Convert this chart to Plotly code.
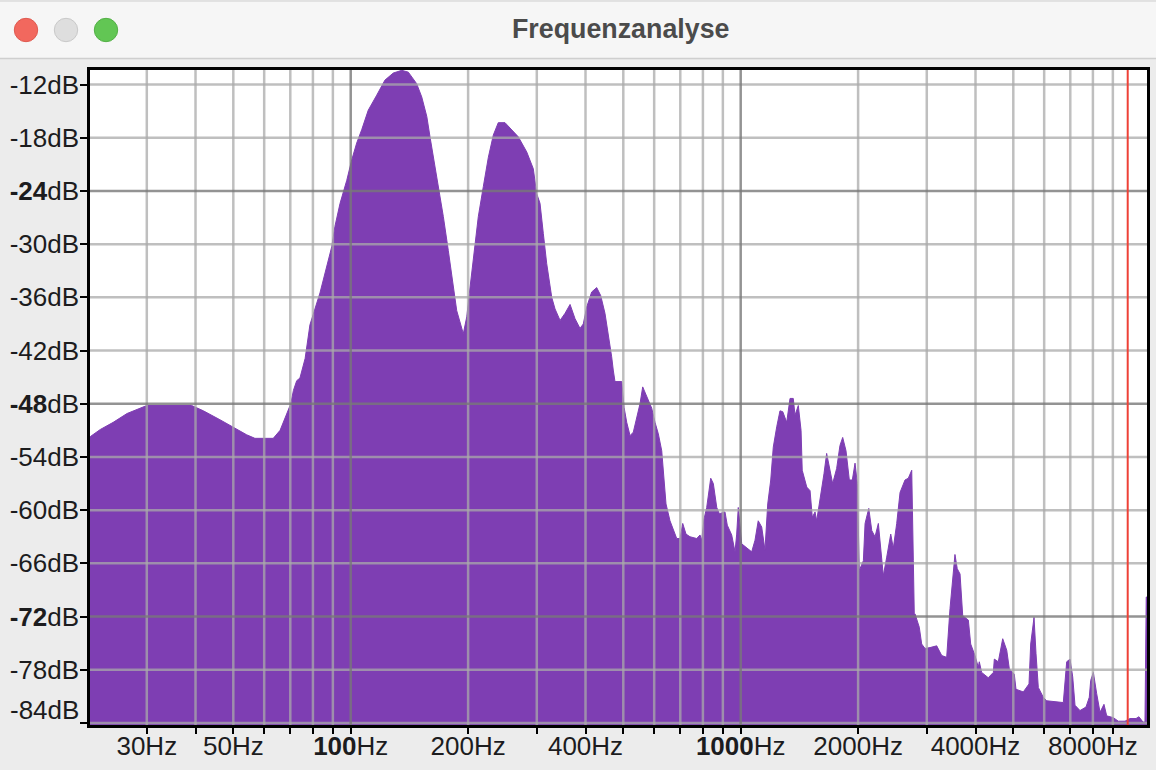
import plotly.graph_objects as go

# Spectrum
freq_hz = [
 21.3, 21.5, 22.8, 24.6, 26.7, 29.4, 30.0, 39.1, 41.9, 46.2,
 50.0, 54.1, 56.8, 63.3, 65.9, 68.6, 70.2, 71.3, 72.7, 74.1,
 76.4, 78.6, 83.4, 89.4, 91.1, 93.9, 97.7, 100.6, 103.6, 106.7,
 110.9, 116.6, 122.4, 128.6, 135.2, 140.5, 147.6, 152.1, 156.7, 159.7,
 163.5, 168.7, 172.8, 177.9, 183.3, 187.0, 194.4, 198.4, 201.4, 206.3,
 212.4, 218.8, 225.4, 232.1, 239.0, 248.7, 269.0, 282.7, 293.9, 299.8,
 305.8, 311.8, 318.1, 327.7, 334.1, 344.2, 354.5, 365.1, 376.0, 387.2,
 394.8, 402.8, 414.8, 427.3, 437.5, 448.7, 460.3, 466.8, 471.2, 476.0,
 495.4, 502.2, 510.2, 520.3, 530.4, 541.1, 551.8, 560.7, 574.1, 591.3,
 603.0, 614.9, 627.3, 633.3, 643.4, 658.7, 685.4, 698.9, 710.1, 724.0,
 741.3, 771.3, 786.4, 794.3, 805.2, 818.1, 837.8, 850.7, 868.1, 881.5,
 911.3, 923.9, 948.2, 967.0, 976.6, 985.8, 1006, 1067, 1088, 1109,
 1132, 1154, 1173, 1194, 1212, 1237, 1261, 1282, 1312, 1338,
 1364, 1378, 1405, 1428, 1438, 1477, 1506, 1526, 1551, 1566,
 1590, 1613, 1635, 1661, 1694, 1721, 1762, 1797, 1826, 1862,
 1899, 1933, 1964, 1991, 2014, 2063, 2084, 2130, 2168, 2210,
 2254, 2290, 2321, 2368, 2425, 2462, 2512, 2562, 2638, 2690,
 2745, 2771, 2787, 2799, 2870, 2911, 2969, 3058, 3181, 3277,
 3374, 3441, 3495, 3543, 3591, 3651, 3709, 3834, 3888, 3988,
 4066, 4091, 4148, 4313, 4444, 4470, 4576, 4697, 4810, 4884,
 5029, 5080, 5304, 5486, 5541, 5651, 5718, 5796, 5969, 6090,
 6717, 6784, 6853, 6989, 7101, 7198, 7413, 7681, 7831, 7897,
 8020, 8181, 8344, 8540, 8679, 9025, 9294, 9670, 9960, 10320,
 10500, 10750, 10880, 10960, 11070,
]
level_db = [
 -51.8, -51.7, -50.9, -50.1, -49.1, -48.4, -48.2, -48.2, -48.8, -49.8,
 -50.7, -51.5, -51.9, -51.9, -51.0, -49.1, -48.0, -46.5, -45.4, -45.1,
 -42.9, -39.1, -35.5, -30.3, -28.0, -25.4, -22.8, -20.5, -18.6, -17.1,
 -14.9, -13.2, -11.5, -10.7, -10.4, -10.6, -11.9, -13.4, -15.6, -17.9,
 -20.5, -23.9, -26.9, -30.7, -34.8, -37.5, -40.1, -38.2, -35.6, -31.8,
 -26.9, -23.5, -20.2, -17.7, -16.3, -16.3, -17.9, -19.6, -21.5, -24.3,
 -25.4, -28.8, -32.2, -36.0, -37.3, -38.6, -37.8, -36.8, -38.4, -39.5,
 -39.0, -37.1, -35.4, -34.9, -35.8, -37.8, -40.8, -42.7, -44.2, -45.5,
 -45.5, -48.4, -50.1, -51.6, -51.2, -49.7, -48.0, -46.1, -47.2, -48.5,
 -50.1, -51.4, -53.3, -55.5, -59.3, -61.2, -63.2, -63.2, -61.5, -62.7,
 -63.0, -63.2, -62.8, -63.4, -61.0, -59.7, -56.4, -57.0, -59.7, -60.4,
 -60.2, -61.7, -62.8, -64.7, -62.7, -59.7, -63.8, -64.7, -63.4, -61.2,
 -61.9, -64.5, -59.3, -56.6, -52.9, -50.6, -48.8, -48.9, -50.1, -47.4,
 -47.4, -49.3, -48.2, -51.0, -55.5, -57.4, -57.8, -60.8, -60.2, -61.2,
 -59.5, -57.8, -55.9, -53.6, -55.7, -57.0, -55.3, -52.7, -51.8, -53.3,
 -56.6, -56.6, -54.7, -57.0, -66.8, -65.7, -61.5, -59.8, -62.3, -63.0,
 -61.5, -64.5, -67.4, -65.3, -62.7, -64.3, -61.5, -58.0, -56.6, -56.4,
 -55.5, -65.7, -71.9, -71.7, -73.2, -75.1, -75.6, -75.5, -75.3, -76.4,
 -76.6, -71.1, -67.9, -65.0, -66.6, -67.2, -71.9, -72.4, -75.1, -76.4,
 -77.7, -77.1, -78.3, -78.9, -78.3, -76.8, -77.1, -74.5, -75.8, -77.9,
 -78.5, -80.2, -80.5, -79.6, -75.1, -72.1, -76.2, -80.0, -81.1, -81.5,
 -81.7, -79.4, -77.1, -76.8, -78.8, -82.0, -82.6, -82.2, -81.1, -79.2,
 -78.3, -80.7, -82.8, -81.9, -83.2, -83.4, -83.8, -83.8, -83.5, -83.5,
 -83.3, -83.9, -83.9, -69.8, -69.8,
]

x_tick_vals = [30, 40, 50, 60, 70, 80, 90, 100, 200, 300, 400, 500, 600, 700, 800, 900,
               1000, 2000, 3000, 4000, 5000, 6000, 7000, 8000, 9000]
x_tick_text = ["30Hz", "", "50Hz", "", "", "", "", "<b>100</b>Hz", "200Hz", "", "400Hz", "", "", "", "", "",
               "<b>1000</b>Hz", "2000Hz", "", "4000Hz", "", "", "", "8000Hz", ""]
x_major = [100, 1000]
y_tick_vals = [-12, -18, -24, -30, -36, -42, -48, -54, -60, -66, -72, -78, -84]
y_tick_text = ["-12dB", "-18dB", "<b>-24</b>dB", "-30dB", "-36dB", "-42dB", "<b>-48</b>dB",
               "-54dB", "-60dB", "-66dB", "<b>-72</b>dB", "-78dB", ""]
y_major = [-24, -48, -72]
cursor_hz = 9825

W, H = 1156, 770
L, R, T, B = 90, 1147, 70, 725
X_RANGE = [1.3315, 4.0418]
Y_RANGE = [-84.23, -10.36]
Y_LOW, Y_TOP = Y_RANGE
F_LOW, F_TOP = 21.45, 11010
FONT = "Liberation Sans"
INK = "#1c1c1e"
PURPLE = "#7E3EB3"
GRID = "rgba(170,170,170,0.75)"
GRID_MAJOR = "rgba(120,120,120,0.8)"


def px(x):
    return (x - L) / (R - L)


def py(y):
    return (B - y) / (B - T)


def vlines(vals, top=Y_TOP, low=Y_LOW):
    xs, ys = [], []
    for v in vals:
        xs += [v, v, None]
        ys += [low, top, None]
    return xs, ys


def hlines(vals, low=F_LOW, top=F_TOP):
    xs, ys = [], []
    for v in vals:
        xs += [low, top, None]
        ys += [v, v, None]
    return xs, ys


fig = go.Figure()
fig.add_trace(go.Scatter(x=[F_LOW, F_TOP], y=[-90, -90], mode="lines", line=dict(width=0),
                         hoverinfo="skip", showlegend=False))
fig.add_trace(go.Scatter(x=freq_hz, y=level_db, mode="lines", line=dict(color=PURPLE, width=1),
                         fill="tonexty", fillcolor=PURPLE, showlegend=False))

minor_x = [v for v in x_tick_vals if v not in x_major]
minor_y = [v for v in y_tick_vals if v not in y_major]
for (xs, ys), color in [
    (vlines(minor_x), GRID), (hlines(minor_y), GRID),
    (vlines(x_major), GRID_MAJOR), (hlines(y_major), GRID_MAJOR),
]:
    fig.add_trace(go.Scatter(x=xs, y=ys, mode="lines", line=dict(color=color, width=2.5),
                             hoverinfo="skip", showlegend=False))

fig.add_trace(go.Scatter(x=[cursor_hz, cursor_hz], y=[Y_LOW, Y_TOP], mode="lines",
                         line=dict(color="#EE4136", width=2), hoverinfo="skip", showlegend=False))

# longer ticks on the decades and on every fourth dB mark
xs, ys = vlines(x_major, top=Y_LOW, low=-85.6)
fig.add_trace(go.Scatter(x=xs, y=ys, mode="lines", line=dict(color="#000", width=2),
                         cliponaxis=False, hoverinfo="skip", showlegend=False))
xs, ys = hlines(y_major, low=20.0, top=F_LOW)
fig.add_trace(go.Scatter(x=xs, y=ys, mode="lines", line=dict(color="#000", width=2),
                         cliponaxis=False, hoverinfo="skip", showlegend=False))

shapes = [
    dict(type="rect", xref="paper", yref="paper", x0=px(0), x1=px(W), y0=py(58), y1=py(0),
         fillcolor="#F6F6F6", line=dict(width=0), layer="below"),
    dict(type="line", xref="paper", yref="paper", x0=px(0), x1=px(W), y0=py(58.5), y1=py(58.5),
         line=dict(color="#CFCFCF", width=1.5), layer="below"),
    dict(type="line", xref="paper", yref="paper", x0=px(0), x1=px(W), y0=py(1), y1=py(1),
         line=dict(color="#CDCDCD", width=1), layer="below"),
]
for cx, fill, edge in [(26, "#F2685E", "#DF5A50"), (66, "#DEDEDE", "#C9C9C9"), (106, "#62C654", "#53B046")]:
    shapes.append(dict(type="circle", xref="paper", yref="paper",
                       x0=px(cx - 11.7), x1=px(cx + 11.7), y0=py(30 + 11.7), y1=py(30 - 11.7),
                       fillcolor=fill, line=dict(color=edge, width=1), layer="below"))

annotations = [
    dict(text="<b>Frequenzanalyse</b>", xref="paper", yref="paper", x=px(620), y=py(29),
         showarrow=False, xanchor="center", yanchor="middle",
         font=dict(family=FONT, size=26.8, color="#4B4B4B")),
    dict(text="-84dB", xref="paper", yref="paper", x=px(81), y=py(709.5),
         showarrow=False, xanchor="right", yanchor="middle", xshift=0,
         font=dict(family=FONT, size=26, color=INK)),
]

fig.update_layout(
    width=W, height=H,
    margin=dict(l=L, r=W - R, t=T, b=H - B, pad=0, autoexpand=False),
    paper_bgcolor="#ECECEC", plot_bgcolor="#FFFFFF",
    showlegend=False, hovermode=False,
    shapes=shapes, annotations=annotations,
    font=dict(family=FONT, size=26, color=INK),
    xaxis=dict(type="log", range=X_RANGE, tickmode="array", tickvals=x_tick_vals, ticktext=x_tick_text,
               ticks="outside", ticklen=6, tickwidth=2, tickcolor="#000", showgrid=False, zeroline=False,
               showline=True, linecolor="#000", linewidth=3, mirror=True, tickangle=0, automargin=False,
               ticklabelstandoff=-10,
               tickfont=dict(family=FONT, size=26, color=INK)),
    yaxis=dict(range=Y_RANGE, tickmode="array", tickvals=y_tick_vals, ticktext=y_tick_text,
               ticks="outside", ticklen=7, tickwidth=2, tickcolor="#000", showgrid=False, zeroline=False,
               showline=True, linecolor="#000", linewidth=2.5, mirror=True, automargin=False,
               ticklabelstandoff=-4,
               tickfont=dict(family=FONT, size=26, color=INK)),
)

fig.write_html("out.html", config=dict(displayModeBar=False),
               post_script="document.body.style.margin='0';document.documentElement.style.overflow='hidden';")
